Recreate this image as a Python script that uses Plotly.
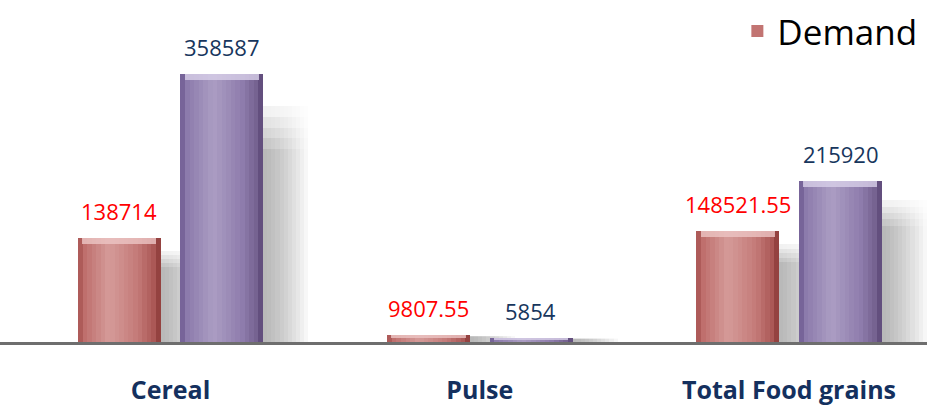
import plotly.graph_objects as go
from plotly.colors import sample_colorscale

# ---- data ----
categories = ["Cereal", "Pulse", "Total Food grains"]
demand = [138714, 9807.55, 148521.55]
production = [358587, 5854, 215920]
demand_labels = ["138714", "9807.55", "148521.55"]
production_labels = ["358587", "5854", "215920"]

# ---- styling constants ----
xpos = list(range(len(categories)))
BAR_W = 0.267
OFF_RED = -0.1657 - BAR_W / 2
OFF_PUR = 0.1657 - BAR_W / 2
N_STRIPES = 18
Y_MAX = 457800
PX_UNIT = Y_MAX / 342.0  # data units per pixel

red_scale = [[0, "#a24d4b"], [0.06, "#bd6c6a"], [0.38, "#d59b99"], [0.72, "#c47a78"],
             [0.93, "#a95654"], [1, "#873533"]]
pur_scale = [[0, "#66528a"], [0.06, "#8a78aa"], [0.4, "#ab9dc3"], [0.75, "#8e7cac"],
             [0.93, "#74618f"], [1, "#574372"]]

fig = go.Figure()


def mix(c, t):
    # blend grey level c toward white by t
    g = int(round(c + (255 - c) * t))
    return f"rgb({g},{g},{g})"


def add_shadow(values, offset):
    n = 12
    sw = 0.16 / n
    levels = [0.88, 0.84, 0.80, 0.76, 0.72]  # tallest (lightest) first
    for j, f in enumerate(levels):
        vt = 1 - (j + 1) / len(levels)  # 0.8 .. 0 fade toward white
        for k in range(n):
            ht = (k / (n - 1)) ** 1.3
            base_grey = 185 + (255 - 185) * ht
            fig.add_trace(go.Bar(
                x=xpos, y=[v * f for v in values], width=sw * 1.04,
                offset=offset + BAR_W + k * sw,
                marker=dict(color=mix(base_grey, vt), line=dict(width=0)),
                showlegend=False, hoverinfo="skip"))


def add_bar(values, offset, name, scale, base_color, top_color, show_legend):
    fig.add_trace(go.Bar(
        x=xpos, y=values, width=BAR_W, offset=offset, name=name,
        marker=dict(color=base_color, line=dict(width=0)), showlegend=show_legend))
    sw = BAR_W / N_STRIPES
    cols = sample_colorscale(scale, [(k + 0.5) / N_STRIPES for k in range(N_STRIPES)])
    for k in range(N_STRIPES):
        fig.add_trace(go.Bar(
            x=xpos, y=values, width=sw * 1.08, offset=offset + k * sw,
            marker=dict(color=cols[k], line=dict(width=0)),
            showlegend=False, hoverinfo="skip"))
    # top bevel highlight
    h = [min(6 * PX_UNIT, v * 0.45) for v in values]
    fig.add_trace(go.Bar(
        x=xpos, y=h, base=[v - hh for v, hh in zip(values, h)], width=BAR_W * 0.9,
        offset=offset + BAR_W * 0.05, marker=dict(color=top_color, line=dict(width=0)),
        opacity=0.8, showlegend=False, hoverinfo="skip"))


add_shadow(demand, OFF_RED)
add_shadow(production, OFF_PUR)
add_bar(demand, OFF_RED, "Demand", red_scale, "#c27472", "#ecc6c4", True)
add_bar(production, OFF_PUR, "Production", pur_scale, "#9584b2", "#d8cfe8", False)

annotations = []
for i, (v, t) in enumerate(zip(demand, demand_labels)):
    annotations.append(dict(x=xpos[i] + OFF_RED + BAR_W / 2, y=v, text=t, showarrow=False,
                            yanchor="bottom", yshift=10,
                            font=dict(family="Open Sans", size=22, color="#ff0000")))
for i, (v, t) in enumerate(zip(production, production_labels)):
    annotations.append(dict(x=xpos[i] + OFF_PUR + BAR_W / 2, y=v, text=t, showarrow=False,
                            yanchor="bottom", yshift=10,
                            font=dict(family="Open Sans", size=22, color="#17365d")))

fig.update_layout(
    width=927, height=406,
    margin=dict(l=0, r=0, t=0, b=64),
    paper_bgcolor="white", plot_bgcolor="white",
    barmode="overlay", bargap=0,
    showlegend=True,
    legend=dict(x=0.995, xanchor="right", y=0.995, yanchor="top",
                font=dict(family="Open Sans", size=35, color="#000000"),
                bgcolor="rgba(0,0,0,0)", borderwidth=0),
    annotations=annotations,
    xaxis=dict(range=[-0.5513, 2.4463], tickvals=xpos, ticktext=categories,
               showgrid=False, zeroline=False, showline=True, linecolor="#6e6e6e",
               linewidth=3, ticks="", ticklabelstandoff=24,
               tickfont=dict(family="Open Sans", size=25, color="#14305e", weight=700)),
    yaxis=dict(range=[0, Y_MAX], visible=False, showgrid=False, zeroline=False),
)

fig.write_html("out.html")
